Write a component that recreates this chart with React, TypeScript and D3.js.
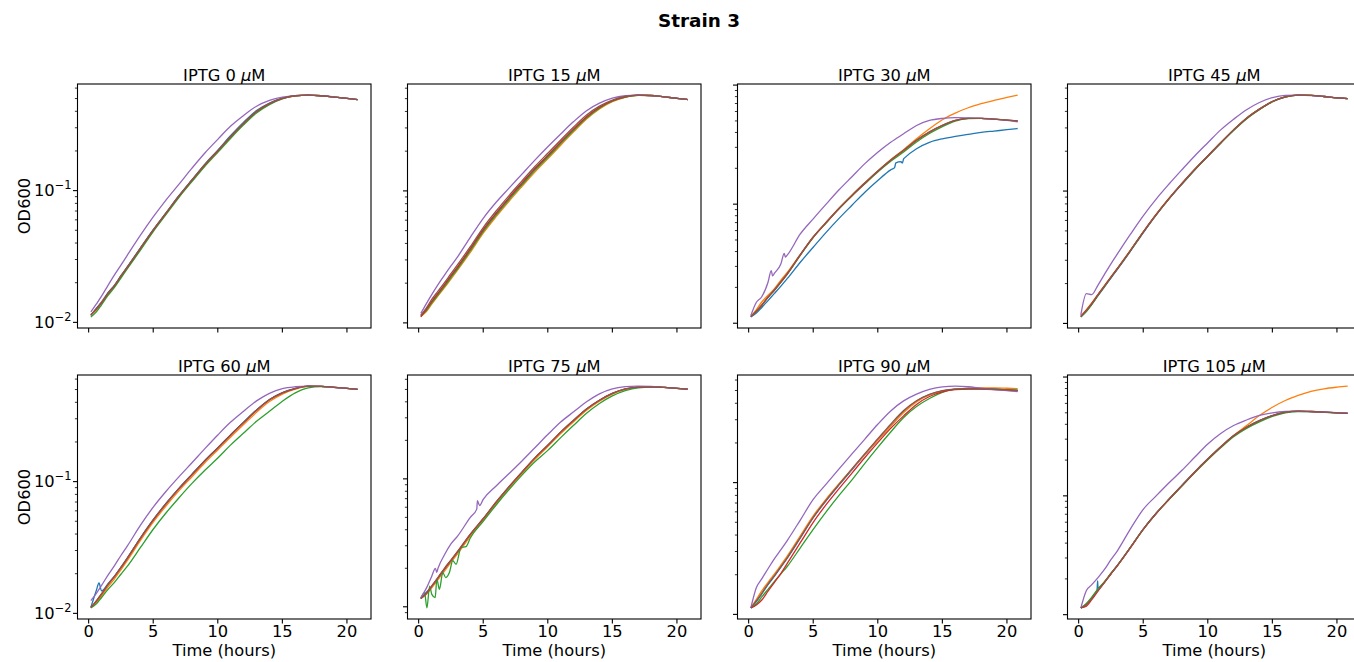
import React from 'react';
import * as d3 from 'd3';

// ---------------- DATA ----------------
const TIME_H = [0.17, 0.6, 1, 1.5, 2, 2.5, 3, 4, 5, 6, 7, 8, 9, 10, 11, 12, 13, 14, 15, 16, 17, 18, 19, 20, 20.83];
const IPTG_UM = [0, 15, 30, 45, 60, 75, 90, 105];
const SERIES_COLORS = ['#1f77b4', '#ff7f0e', '#2ca02c', '#d62728', '#9467bd', '#8c564b'];
const X_TICKS = [0, 5, 10, 15, 20];

// IPTG 0 uM
const p0_blue = [0.0113, 0.0128, 0.0143, 0.0168, 0.0192, 0.0226, 0.0265, 0.0366, 0.0505, 0.0680, 0.0918, 0.121, 0.159, 0.203, 0.262, 0.331, 0.405, 0.462, 0.503, 0.526, 0.531, 0.525, 0.513, 0.501, 0.490];
const p0_orange = [0.0115, 0.0124, 0.0142, 0.0164, 0.0189, 0.0222, 0.0261, 0.0360, 0.0498, 0.0672, 0.0905, 0.119, 0.156, 0.199, 0.255, 0.322, 0.396, 0.455, 0.500, 0.524, 0.530, 0.525, 0.513, 0.501, 0.490];
const p0_green = [0.0110, 0.0120, 0.0136, 0.0160, 0.0184, 0.0217, 0.0256, 0.0352, 0.0489, 0.0660, 0.0890, 0.117, 0.153, 0.195, 0.250, 0.316, 0.389, 0.450, 0.497, 0.523, 0.530, 0.525, 0.513, 0.501, 0.490];
const p0_red = [0.0114, 0.0126, 0.0141, 0.0166, 0.0190, 0.0224, 0.0263, 0.0363, 0.0501, 0.0676, 0.0912, 0.120, 0.157, 0.200, 0.257, 0.324, 0.398, 0.457, 0.501, 0.525, 0.531, 0.525, 0.513, 0.501, 0.490];
const p0_purple = [0.0120, 0.0138, 0.0158, 0.0191, 0.0229, 0.0272, 0.0324, 0.0457, 0.0631, 0.0851, 0.112, 0.148, 0.193, 0.245, 0.309, 0.372, 0.437, 0.484, 0.513, 0.527, 0.531, 0.526, 0.514, 0.502, 0.491];
const p0_brown = [0.0113, 0.0127, 0.0140, 0.0167, 0.0189, 0.0225, 0.0262, 0.0364, 0.0502, 0.0677, 0.0914, 0.120, 0.158, 0.201, 0.258, 0.325, 0.399, 0.458, 0.502, 0.525, 0.531, 0.525, 0.513, 0.501, 0.490];

// IPTG 15 uM
const p15_blue = [0.0115, 0.0126, 0.0143, 0.0166, 0.0192, 0.0225, 0.0261, 0.0360, 0.0503, 0.0670, 0.0877, 0.113, 0.146, 0.183, 0.232, 0.291, 0.361, 0.427, 0.480, 0.514, 0.531, 0.528, 0.516, 0.503, 0.492];
const p15_orange = [0.0112, 0.0122, 0.0138, 0.0160, 0.0185, 0.0215, 0.0250, 0.0342, 0.0478, 0.0638, 0.0835, 0.108, 0.139, 0.175, 0.222, 0.280, 0.350, 0.418, 0.474, 0.511, 0.529, 0.528, 0.516, 0.503, 0.492];
const p15_green = [0.0113, 0.0124, 0.0141, 0.0163, 0.0189, 0.0220, 0.0256, 0.0352, 0.0492, 0.0656, 0.0860, 0.111, 0.143, 0.180, 0.228, 0.287, 0.357, 0.424, 0.478, 0.513, 0.530, 0.528, 0.516, 0.503, 0.492];
const p15_red = [0.0111, 0.0127, 0.0145, 0.0168, 0.0195, 0.0228, 0.0265, 0.0365, 0.0510, 0.0680, 0.0890, 0.115, 0.148, 0.186, 0.235, 0.295, 0.365, 0.430, 0.482, 0.515, 0.531, 0.528, 0.516, 0.503, 0.492];
const p15_purple = [0.0118, 0.0140, 0.0163, 0.0195, 0.0230, 0.0270, 0.0315, 0.0445, 0.0620, 0.0820, 0.105, 0.134, 0.171, 0.216, 0.270, 0.335, 0.405, 0.462, 0.505, 0.526, 0.532, 0.528, 0.516, 0.503, 0.492];
const p15_brown = [0.0114, 0.0130, 0.0150, 0.0174, 0.0202, 0.0236, 0.0275, 0.0378, 0.0528, 0.0705, 0.0922, 0.119, 0.153, 0.193, 0.243, 0.305, 0.376, 0.439, 0.488, 0.519, 0.532, 0.528, 0.516, 0.503, 0.492];

// IPTG 30 uM
const p30_blue = [0.0113, 0.0122, 0.0135, 0.0155, 0.0178, 0.0205, 0.0238, 0.0325, 0.0435, 0.0580, 0.0760, 0.0980, 0.126, 0.158, 0.194, 0.240, 0.292, 0.330, 0.354, 0.371, 0.385, 0.400, 0.411, 0.422, 0.432];
const p30_blue_extra = [[11.3, 0.203], [11.4, 0.222], [11.8, 0.228], [11.9, 0.221], [12.1, 0.246]];
const p30_orange = [0.0114, 0.0130, 0.0150, 0.0172, 0.0195, 0.0230, 0.0268, 0.0378, 0.0530, 0.0705, 0.0925, 0.119, 0.151, 0.190, 0.236, 0.287, 0.354, 0.430, 0.512, 0.582, 0.645, 0.697, 0.743, 0.787, 0.824];
const p30_green = [0.0114, 0.0125, 0.0140, 0.0165, 0.0189, 0.0221, 0.0259, 0.0372, 0.0524, 0.0695, 0.0912, 0.117, 0.148, 0.186, 0.229, 0.274, 0.333, 0.392, 0.448, 0.498, 0.522, 0.526, 0.518, 0.508, 0.500];
const p30_red = [0.0114, 0.0126, 0.0141, 0.0166, 0.0190, 0.0222, 0.0260, 0.0375, 0.0528, 0.0700, 0.0920, 0.118, 0.150, 0.189, 0.234, 0.282, 0.343, 0.403, 0.458, 0.505, 0.525, 0.526, 0.518, 0.508, 0.501];
const p30_purple = [0.0116, 0.0150, 0.0166, 0.0221, 0.0263, 0.0316, 0.0375, 0.0562, 0.0753, 0.100, 0.132, 0.170, 0.219, 0.273, 0.331, 0.390, 0.458, 0.505, 0.525, 0.532, 0.530, 0.525, 0.518, 0.505, 0.492];
const p30_purple_extra = [[1.75, 0.0277], [1.85, 0.0250], [2.75, 0.0385], [2.85, 0.0360]];
const p30_brown = [0.0113, 0.0127, 0.0142, 0.0165, 0.0191, 0.0223, 0.0262, 0.0377, 0.0530, 0.0703, 0.0925, 0.119, 0.151, 0.190, 0.235, 0.284, 0.345, 0.405, 0.460, 0.506, 0.526, 0.526, 0.517, 0.507, 0.499];

// IPTG 45 uM
const p45_blue = [0.0112, 0.0124, 0.0139, 0.0162, 0.0189, 0.0220, 0.0256, 0.0350, 0.0484, 0.0658, 0.0872, 0.113, 0.145, 0.183, 0.231, 0.289, 0.354, 0.416, 0.475, 0.515, 0.531, 0.528, 0.518, 0.507, 0.500];
const p45_orange = [0.0114, 0.0127, 0.0142, 0.0166, 0.0193, 0.0225, 0.0261, 0.0357, 0.0492, 0.0667, 0.0882, 0.114, 0.146, 0.184, 0.232, 0.290, 0.355, 0.416, 0.475, 0.515, 0.531, 0.528, 0.518, 0.507, 0.500];
const p45_green = [0.0112, 0.0123, 0.0138, 0.0163, 0.0190, 0.0222, 0.0258, 0.0352, 0.0487, 0.0661, 0.0875, 0.113, 0.145, 0.183, 0.230, 0.287, 0.351, 0.412, 0.472, 0.513, 0.530, 0.528, 0.518, 0.507, 0.500];
const p45_red = [0.0113, 0.0126, 0.0141, 0.0165, 0.0192, 0.0224, 0.0260, 0.0355, 0.0490, 0.0665, 0.0880, 0.114, 0.146, 0.184, 0.232, 0.290, 0.355, 0.416, 0.475, 0.515, 0.531, 0.528, 0.518, 0.507, 0.500];
const p45_purple = [0.0116, 0.0168, 0.0165, 0.0195, 0.0235, 0.0282, 0.0335, 0.0470, 0.0650, 0.0870, 0.113, 0.145, 0.185, 0.232, 0.290, 0.349, 0.412, 0.467, 0.509, 0.529, 0.531, 0.527, 0.518, 0.507, 0.500];
const p45_brown = [0.0113, 0.0125, 0.0140, 0.0164, 0.0191, 0.0223, 0.0259, 0.0354, 0.0489, 0.0664, 0.0878, 0.114, 0.146, 0.184, 0.232, 0.290, 0.355, 0.416, 0.475, 0.515, 0.531, 0.528, 0.518, 0.507, 0.500];

// IPTG 60 uM
const p60_blue = [0.0111, 0.0150, 0.0148, 0.0168, 0.0192, 0.0224, 0.0264, 0.0373, 0.0514, 0.0686, 0.0892, 0.114, 0.145, 0.181, 0.227, 0.283, 0.350, 0.420, 0.474, 0.510, 0.531, 0.529, 0.520, 0.510, 0.502];
const p60_blue_extra = [[0.8, 0.0170]];
const p60_orange = [0.0111, 0.0121, 0.0136, 0.0159, 0.0183, 0.0214, 0.0252, 0.0356, 0.0492, 0.0656, 0.0855, 0.109, 0.139, 0.174, 0.218, 0.271, 0.336, 0.405, 0.462, 0.503, 0.528, 0.529, 0.520, 0.510, 0.502];
const p60_green = [0.0110, 0.0118, 0.0132, 0.0152, 0.0172, 0.0198, 0.0228, 0.0315, 0.0435, 0.0580, 0.0755, 0.0970, 0.122, 0.151, 0.190, 0.234, 0.287, 0.342, 0.408, 0.472, 0.515, 0.527, 0.520, 0.510, 0.502];
const p60_red = [0.0111, 0.0124, 0.0140, 0.0165, 0.0190, 0.0222, 0.0262, 0.0370, 0.0510, 0.0680, 0.0885, 0.113, 0.144, 0.180, 0.226, 0.281, 0.348, 0.418, 0.472, 0.509, 0.531, 0.529, 0.520, 0.510, 0.502];
const p60_purple = [0.0125, 0.0142, 0.0163, 0.0195, 0.0230, 0.0275, 0.0325, 0.0465, 0.0640, 0.0845, 0.109, 0.139, 0.178, 0.226, 0.283, 0.342, 0.410, 0.468, 0.508, 0.525, 0.531, 0.528, 0.520, 0.510, 0.502];
const p60_brown = [0.0111, 0.0125, 0.0141, 0.0166, 0.0191, 0.0223, 0.0263, 0.0371, 0.0512, 0.0682, 0.0888, 0.113, 0.144, 0.180, 0.226, 0.281, 0.348, 0.418, 0.472, 0.509, 0.531, 0.529, 0.520, 0.510, 0.502];

// IPTG 75 uM
const p75_blue = [0.0116, 0.0130, 0.0143, 0.0166, 0.0195, 0.0228, 0.0265, 0.0362, 0.0482, 0.0652, 0.0862, 0.112, 0.145, 0.182, 0.231, 0.286, 0.351, 0.411, 0.465, 0.503, 0.521, 0.524, 0.518, 0.510, 0.503];
const p75_orange = [0.0116, 0.0125, 0.0140, 0.0163, 0.0190, 0.0222, 0.0258, 0.0355, 0.0475, 0.0642, 0.0850, 0.110, 0.142, 0.179, 0.226, 0.280, 0.344, 0.405, 0.460, 0.500, 0.520, 0.524, 0.518, 0.510, 0.503];
const p75_green = [0.0116, null, null, null, null, null, null, 0.0345, 0.0465, 0.0625, 0.0825, 0.107, 0.136, 0.167, 0.210, 0.262, 0.325, 0.388, 0.445, 0.489, 0.515, 0.522, 0.518, 0.510, 0.503];
const p75_green_extra = [[0.46, 0.0129], [0.64, 0.0098], [0.85, 0.0145], [1.02, 0.0125], [1.28, 0.0118], [1.41, 0.0164], [1.61, 0.0137], [1.87, 0.0185], [2.1, 0.0169], [2.38, 0.0185], [2.64, 0.0229], [2.9, 0.0215], [3.28, 0.0290], [3.66, 0.0295]];
const p75_red = [0.0116, 0.0128, 0.0145, 0.0170, 0.0200, 0.0232, 0.0270, 0.0370, 0.0490, 0.0660, 0.0870, 0.113, 0.146, 0.183, 0.232, 0.287, 0.352, 0.412, 0.466, 0.504, 0.521, 0.524, 0.518, 0.510, 0.503];
const p75_purple = [0.0118, 0.0140, 0.0172, 0.0200, 0.0255, 0.0310, 0.0355, 0.0500, 0.0690, 0.0880, 0.110, 0.138, 0.175, 0.222, 0.278, 0.334, 0.400, 0.462, 0.505, 0.525, 0.531, 0.527, 0.518, 0.510, 0.503];
const p75_purple_extra = [[1.3, 0.0200], [1.4, 0.0186], [4.5, 0.0580], [4.55, 0.0676], [4.72, 0.0618]];
const p75_brown = [0.0116, 0.0127, 0.0144, 0.0168, 0.0198, 0.0230, 0.0268, 0.0368, 0.0488, 0.0658, 0.0868, 0.113, 0.146, 0.183, 0.232, 0.287, 0.352, 0.412, 0.466, 0.504, 0.521, 0.524, 0.518, 0.510, 0.503];

// IPTG 90 uM
const p90_blue = [0.0112, 0.0125, 0.0142, 0.0168, 0.0195, 0.0228, 0.0268, 0.0380, 0.0542, 0.0730, 0.0960, 0.125, 0.163, 0.210, 0.270, 0.345, 0.415, 0.465, 0.497, 0.512, 0.516, 0.517, 0.515, 0.508, 0.502];
const p90_orange = [0.0112, 0.0130, 0.0150, 0.0175, 0.0203, 0.0237, 0.0278, 0.0395, 0.0560, 0.0750, 0.0980, 0.127, 0.164, 0.210, 0.268, 0.340, 0.410, 0.462, 0.495, 0.512, 0.520, 0.524, 0.524, 0.520, 0.516];
const p90_green = [0.0112, 0.0120, 0.0135, 0.0155, 0.0178, 0.0203, 0.0232, 0.0320, 0.0442, 0.0600, 0.0800, 0.105, 0.140, 0.185, 0.242, 0.312, 0.378, 0.435, 0.483, 0.512, 0.518, 0.517, 0.513, 0.508, 0.502];
const p90_red = [0.0112, 0.0118, 0.0128, 0.0150, 0.0175, 0.0205, 0.0245, 0.0350, 0.0500, 0.0680, 0.0900, 0.118, 0.155, 0.201, 0.258, 0.321, 0.392, 0.450, 0.488, 0.508, 0.513, 0.512, 0.508, 0.502, 0.496];
const p90_purple = [0.0112, 0.0160, 0.0185, 0.0222, 0.0265, 0.0310, 0.0365, 0.0520, 0.0746, 0.0973, 0.127, 0.165, 0.214, 0.277, 0.350, 0.417, 0.469, 0.510, 0.533, 0.540, 0.534, 0.520, 0.508, 0.498, 0.491];
const p90_brown = [0.0112, 0.0127, 0.0144, 0.0170, 0.0197, 0.0230, 0.0270, 0.0383, 0.0545, 0.0735, 0.0970, 0.127, 0.166, 0.215, 0.278, 0.352, 0.418, 0.467, 0.498, 0.512, 0.515, 0.515, 0.512, 0.505, 0.498];

// IPTG 105 uM
const p105_blue = [0.0114, 0.0122, 0.0137, 0.0168, 0.0188, 0.0222, 0.0260, 0.0368, 0.0525, 0.0714, 0.0940, 0.123, 0.160, 0.205, 0.259, 0.322, 0.379, 0.430, 0.474, 0.505, 0.515, 0.512, 0.506, 0.499, 0.494];
const p105_blue_extra = [[1.42, 0.0160], [1.47, 0.0192]];
const p105_orange = [0.0114, 0.0123, 0.0138, 0.0163, 0.0189, 0.0222, 0.0260, 0.0366, 0.0522, 0.0712, 0.0938, 0.122, 0.159, 0.204, 0.259, 0.322, 0.390, 0.474, 0.557, 0.635, 0.700, 0.757, 0.796, 0.822, 0.839];
const p105_green = [0.0114, 0.0124, 0.0140, 0.0165, 0.0190, 0.0222, 0.0260, 0.0367, 0.0523, 0.0710, 0.0932, 0.121, 0.157, 0.201, 0.254, 0.315, 0.370, 0.420, 0.466, 0.500, 0.513, 0.511, 0.505, 0.499, 0.494];
const p105_red = [0.0114, 0.0118, 0.0133, 0.0158, 0.0186, 0.0220, 0.0258, 0.0365, 0.0522, 0.0710, 0.0935, 0.122, 0.159, 0.204, 0.258, 0.321, 0.378, 0.430, 0.474, 0.506, 0.516, 0.513, 0.507, 0.500, 0.495];
const p105_purple = [0.0114, 0.0160, 0.0178, 0.0205, 0.0240, 0.0290, 0.0345, 0.0525, 0.0770, 0.100, 0.129, 0.164, 0.212, 0.273, 0.335, 0.391, 0.435, 0.475, 0.500, 0.513, 0.516, 0.513, 0.508, 0.502, 0.498];
const p105_brown = [0.0114, 0.0121, 0.0136, 0.0160, 0.0187, 0.0221, 0.0259, 0.0366, 0.0523, 0.0711, 0.0936, 0.122, 0.159, 0.204, 0.258, 0.321, 0.378, 0.430, 0.474, 0.506, 0.516, 0.513, 0.507, 0.500, 0.495];

type Pt = [number, number];
type SeriesDef = { values: (number | null)[]; extra?: number[][] };

const PANEL_SERIES: SeriesDef[][] = [
  [{ values: p0_blue }, { values: p0_orange }, { values: p0_green }, { values: p0_red }, { values: p0_purple }, { values: p0_brown }],
  [{ values: p15_blue }, { values: p15_orange }, { values: p15_green }, { values: p15_red }, { values: p15_purple }, { values: p15_brown }],
  [{ values: p30_blue, extra: p30_blue_extra }, { values: p30_orange }, { values: p30_green }, { values: p30_red }, { values: p30_purple, extra: p30_purple_extra }, { values: p30_brown }],
  [{ values: p45_blue }, { values: p45_orange }, { values: p45_green }, { values: p45_red }, { values: p45_purple }, { values: p45_brown }],
  [{ values: p60_blue, extra: p60_blue_extra }, { values: p60_orange }, { values: p60_green }, { values: p60_red }, { values: p60_purple }, { values: p60_brown }],
  [{ values: p75_blue }, { values: p75_orange }, { values: p75_green, extra: p75_green_extra }, { values: p75_red }, { values: p75_purple, extra: p75_purple_extra }, { values: p75_brown }],
  [{ values: p90_blue }, { values: p90_orange }, { values: p90_green }, { values: p90_red }, { values: p90_purple }, { values: p90_brown }],
  [{ values: p105_blue, extra: p105_blue_extra }, { values: p105_orange }, { values: p105_green }, { values: p105_red }, { values: p105_purple }, { values: p105_brown }],
];

// ---------------- LAYOUT ----------------
const W = 1354, H = 662;
const FONT = "'DejaVu Sans', Verdana, sans-serif";
const FS = 16.3;
const COL_X = [77.5, 407.5, 737.5, 1067.5];
const ROW_Y = [84, 375];
const PW = 293.5, PH = 244;

function buildPoints(s: SeriesDef): Pt[] {
  const pts: Pt[] = [];
  TIME_H.forEach((t, i) => {
    const v = s.values[i];
    if (v != null) pts.push([t, v]);
  });
  (s.extra || []).forEach((p) => pts.push([p[0], p[1]]));
  pts.sort((a, b) => a[0] - b[0]);
  return pts;
}

function Panel({ idx }: { idx: number }) {
  const col = idx % 4, row = Math.floor(idx / 4);
  const x0 = COL_X[col], y0 = ROW_Y[row];
  const series = PANEL_SERIES[idx].map(buildPoints);
  const all = series.flat();
  const [tmin, tmax] = d3.extent(all, (d) => d[0]) as [number, number];
  const tm = (tmax - tmin) * 0.05;
  const x = d3.scaleLinear().domain([tmin - tm, tmax + tm]).range([x0, x0 + PW]);
  const lmin = Math.log10(d3.min(all, (d) => d[1]) as number);
  const lmax = Math.log10(d3.max(all, (d) => d[1]) as number);
  const lm = (lmax - lmin) * 0.05;
  const y = d3.scaleLog().domain([Math.pow(10, lmin - lm), Math.pow(10, lmax + lm)]).range([y0 + PH, y0]);
  const line = d3.line<Pt>().x((d) => x(d[0])).y((d) => y(d[1])).curve(d3.curveMonotoneX);

  const [dlo, dhi] = y.domain();
  const yTicks: { v: number; major: boolean; exp: number }[] = [];
  for (let e = Math.floor(Math.log10(dlo)); e <= Math.ceil(Math.log10(dhi)); e++) {
    for (let m = 1; m <= 9; m++) {
      const v = m * Math.pow(10, e);
      if (v >= dlo && v <= dhi) yTicks.push({ v, major: m === 1, exp: e });
    }
  }
  const clipId = `clip${idx}`;
  return (
    <g>
      <defs>
        <clipPath id={clipId}>
          <rect x={x0} y={y0} width={PW} height={PH} />
        </clipPath>
      </defs>
      <g clipPath={`url(#${clipId})`}>
        {series.map((pts, si) => (
          <path key={si} d={line(pts) || ''} fill="none" stroke={SERIES_COLORS[si]} strokeWidth={1.3} strokeLinejoin="round" />
        ))}
      </g>
      <rect x={x0} y={y0} width={PW} height={PH} fill="none" stroke="#000" strokeWidth={1.1} />
      {X_TICKS.map((t) => (
        <g key={t}>
          <line x1={x(t)} x2={x(t)} y1={y0 + PH} y2={y0 + PH + 4.5} stroke="#000" strokeWidth={1.1} />
          {row === 1 && (
            <text x={x(t)} y={y0 + PH + 18} textAnchor="middle" fontSize={FS} fontFamily={FONT} fill="#000">{t}</text>
          )}
        </g>
      ))}
      {yTicks.map((tk, i) => (
        <g key={i}>
          <line x1={x0 - (tk.major ? 4.5 : 2.6)} x2={x0} y1={y(tk.v)} y2={y(tk.v)} stroke="#000" strokeWidth={tk.major ? 1.1 : 0.8} />
          {col === 0 && tk.major && (
            <text x={x0 - 6} y={y(tk.v) + 5.6} textAnchor="end" fontFamily={FONT} fill="#000" fontSize={FS}>
              <tspan>10</tspan>
              <tspan dy={-7} fontSize={11.4}>{'\u2212' + Math.abs(tk.exp)}</tspan>
            </text>
          )}
        </g>
      ))}
      <text x={x0 + PW / 2} y={y0 - 3.5} textAnchor="middle" fontSize={FS} fontFamily={FONT} fill="#000">
        {`IPTG ${IPTG_UM[idx]} `}
        <tspan fontStyle="italic">μ</tspan>
        {'M'}
      </text>
      {col === 0 && (
        <text transform={`translate(${29.5},${y0 + PH / 2}) rotate(-90)`} textAnchor="middle" fontSize={FS} fontFamily={FONT} fill="#000">OD600</text>
      )}
      {row === 1 && (
        <text x={x0 + PW / 2} y={656} textAnchor="middle" fontSize={FS} fontFamily={FONT} fill="#000">Time (hours)</text>
      )}
    </g>
  );
}

export default function App() {
  return (
    <svg width={W} height={H} viewBox={`0 0 ${W} ${H}`} style={{ position: 'absolute', left: 0, top: 0, display: 'block', background: '#fff' }}>
      <rect x={0} y={0} width={W} height={H} fill="#fff" />
      <text x={699} y={27} textAnchor="middle" fontSize={18.4} fontWeight="bold" fontFamily={FONT} fill="#000">Strain 3</text>
      {IPTG_UM.map((_, i) => (
        <Panel key={i} idx={i} />
      ))}
    </svg>
  );
}
